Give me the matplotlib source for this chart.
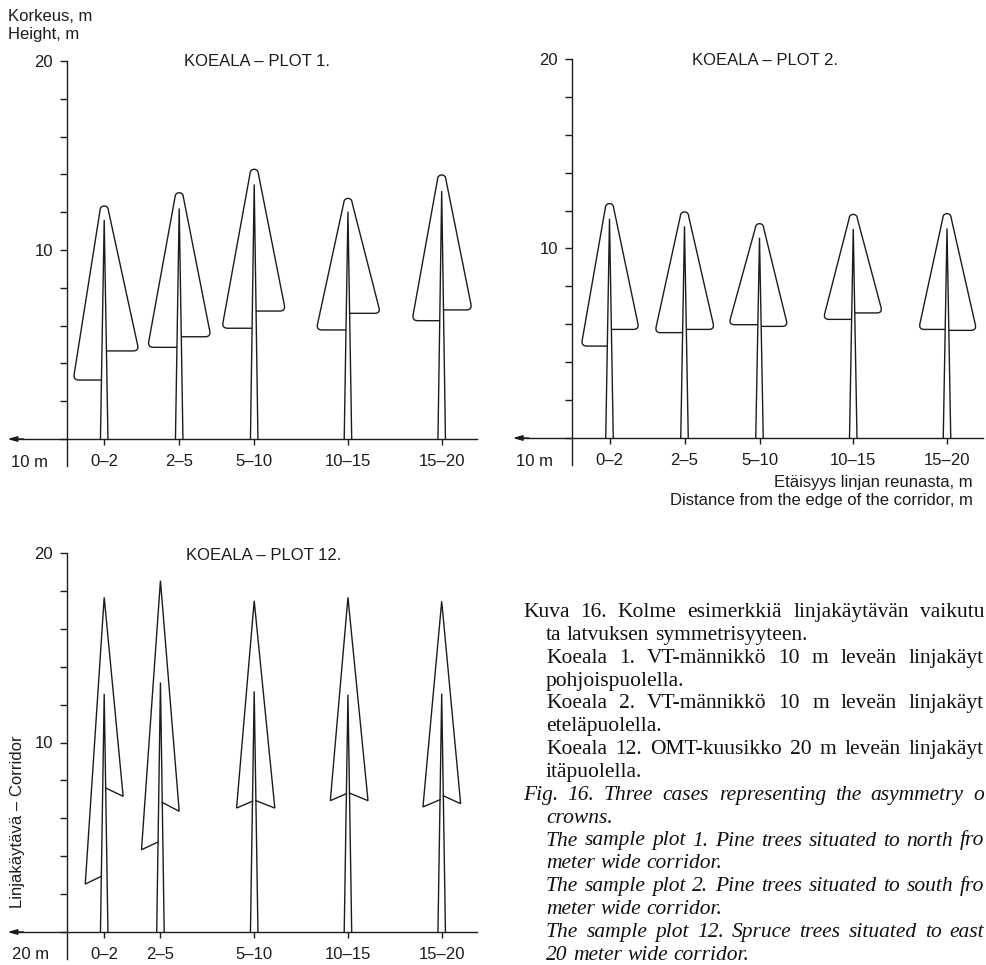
import matplotlib
matplotlib.use('Agg')
import matplotlib.pyplot as plt
from matplotlib.path import Path
from matplotlib.patches import PathPatch

W, H, DPI = 986, 965, 100
LC = '#1c1c1c'
LW = 1.0
SANS = ['Liberation Sans', 'DejaVu Sans']
SERIF = ['Liberation Serif', 'DejaVu Serif']

categories = ['0–2', '2–5', '5–10', '10–15', '15–20']

# ---- Plot 1 (pine, north of 10 m corridor) ----
p1_pos = [2, 6, 10, 15, 20]
p1_top = [12.33, 13.03, 14.27, 12.73, 13.97]     # crown top, m
p1_stem = [11.59, 12.20, 13.47, 12.03, 13.12]    # stem top, m
p1_hl = [3.12, 4.85, 5.86, 5.77, 6.26]           # crown base, corridor side
p1_hr = [4.66, 5.41, 6.77, 6.65, 6.83]           # crown base, stand side
p1_wl = [1.65, 1.68, 1.72, 1.69, 1.58]           # crown radius, corridor side
p1_wr = [1.85, 1.69, 1.67, 1.73, 1.62]           # crown radius, stand side

# ---- Plot 2 (pine, south of 10 m corridor) ----
p2_pos = [2, 6, 10, 15, 20]
p2_top = [12.37, 11.93, 11.31, 11.80, 11.84]
p2_stem = [11.57, 11.17, 10.57, 11.03, 11.06]
p2_hl = [4.85, 5.56, 5.98, 6.26, 5.73]
p2_hr = [5.73, 5.73, 5.89, 6.60, 5.68]
p2_wl = [1.51, 1.58, 1.64, 1.60, 1.51]
p2_wr = [1.58, 1.60, 1.51, 1.56, 1.58]

# ---- Plot 12 (spruce, east of 20 m corridor) ----
p3_pos = [2, 5, 10, 15, 20]
p3_top = [17.66, 18.54, 17.48, 17.66, 17.45]
p3_stem = [12.56, 13.17, 12.70, 12.52, 12.58]
p3_hl_out = [2.53, 4.34, 6.54, 6.93, 6.60]
p3_hl_in = [2.94, 4.75, 6.90, 7.30, 6.98]
p3_hr_out = [7.16, 6.37, 6.54, 6.93, 6.77]
p3_hr_in = [7.60, 6.84, 6.93, 7.33, 7.19]
p3_wl = [1.01, 1.01, 0.94, 0.94, 1.00]
p3_wr = [1.01, 1.00, 1.10, 1.07, 1.01]

STEM_HW = 0.2

fig = plt.figure(figsize=(W / DPI, H / DPI), dpi=DPI)
fig.patch.set_facecolor('white')


def fx(px):
    return px / W


def fy(py):
    return 1 - py / H


def make_ax(ox, oy, sx, sy, left, right, top, bottom):
    ax = fig.add_axes([left / W, 1 - bottom / H, (right - left) / W, (bottom - top) / H])
    ax.set_xlim((left - ox) / sx, (right - ox) / sx)
    ax.set_ylim((oy - bottom) / sy, (oy - top) / sy)
    ax.set_facecolor('none')
    for s in ('top', 'right'):
        ax.spines[s].set_visible(False)
    ax.spines['left'].set_position(('data', 0))
    ax.spines['bottom'].set_position(('data', 0))
    ax.spines['left'].set_bounds(-1.45, 20)
    ax.spines['bottom'].set_bounds(-2.9, 21.9)
    for s in ('left', 'bottom'):
        ax.spines[s].set_color(LC)
        ax.spines[s].set_linewidth(LW)
    ax.set_yticks(range(0, 21, 2))
    ax.set_yticklabels(['10' if v == 10 else '20' if v == 20 else '' for v in range(0, 21, 2)],
                       family=SANS, fontsize=12, color=LC)
    ax.tick_params(axis='y', direction='out', length=5, width=LW, pad=5, colors=LC)
    ax.annotate('', xy=(-3.15, 0), xytext=(-2.3, 0),
                arrowprops=dict(arrowstyle='-|>,head_length=0.55,head_width=0.16',
                                color=LC, lw=LW, shrinkA=0, shrinkB=0))
    return ax


def set_cats(ax, pos):
    ax.set_xticks(pos)
    ax.set_xticklabels(categories, family=SANS, fontsize=12, color=LC)
    ax.tick_params(axis='x', direction='out', length=4.5, width=LW, pad=6.5, colors=LC)


def toward(p, q, d):
    dx, dy = q[0] - p[0], q[1] - p[1]
    n = (dx * dx + dy * dy) ** 0.5
    return (p[0] + dx / n * d, p[1] + dy / n * d)


def stem_x(c, top, h, side):
    return c + side * STEM_HW * (1 - h / top)


def draw_stem(ax, c, top):
    ax.plot([c - STEM_HW, c, c + STEM_HW], [0, top, 0], color=LC, lw=LW,
            solid_joinstyle='miter')


def draw_pine(ax, c, top, stem, hl, hr, wl, wr):
    draw_stem(ax, c, stem)
    rc, rb = 0.22, 0.3
    SL = (stem_x(c, stem, hl, -1), hl)
    OL = (c - wl, hl)
    A1 = (c - rc, top - rc)
    A2 = (c + rc, top - rc)
    OR = (c + wr, hr)
    SR = (stem_x(c, stem, hr, 1), hr)
    b1, b2 = toward(OL, SL, rb), toward(OL, A1, rb)
    c1, c2 = toward(OR, A2, rb), toward(OR, SR, rb)
    k = 4.0 / 3.0 * rc
    verts = [SL, b1, OL, b2, A1, (A1[0], A1[1] + k), (A2[0], A2[1] + k), A2,
             c1, OR, c2, SR]
    codes = [Path.MOVETO, Path.LINETO, Path.CURVE3, Path.CURVE3, Path.LINETO,
             Path.CURVE4, Path.CURVE4, Path.CURVE4, Path.LINETO, Path.CURVE3,
             Path.CURVE3, Path.LINETO]
    ax.add_patch(PathPatch(Path(verts, codes), fill=False, edgecolor=LC, lw=LW,
                           joinstyle='round', capstyle='butt'))


def draw_spruce(ax, c, top, stem, hlo, hli, hro, hri, wl, wr):
    draw_stem(ax, c, stem)
    xs = [stem_x(c, stem, hli, -1), c - wl, c, c + wr, stem_x(c, stem, hri, 1)]
    ys = [hli, hlo, top, hro, hri]
    ax.plot(xs, ys, color=LC, lw=LW, solid_joinstyle='miter')


# ---------- Panel 1 ----------
ax1 = make_ax(66.7, 439.0, 18.75, 18.9, 0, 493, 40, 480)
set_cats(ax1, p1_pos)
for i in range(len(p1_pos)):
    draw_pine(ax1, p1_pos[i], p1_top[i], p1_stem[i], p1_hl[i], p1_hr[i], p1_wl[i], p1_wr[i])
ax1.text(10.15, 19.74, 'KOEALA – PLOT 1.', ha='center', va='baseline', family=SANS,
         fontsize=12, color=LC)
ax1.text(-2.0, -1.47, '10 m', ha='center', va='baseline', family=SANS, fontsize=12, color=LC)

# ---------- Panel 2 ----------
ax2 = make_ax(572.0, 438.0, 18.75, 18.95, 495, 986, 40, 480)
set_cats(ax2, p2_pos)
for i in range(len(p2_pos)):
    draw_pine(ax2, p2_pos[i], p2_top[i], p2_stem[i], p2_hl[i], p2_hr[i], p2_wl[i], p2_wr[i])
ax2.text(10.28, 19.68, 'KOEALA – PLOT 2.', ha='center', va='baseline', family=SANS,
         fontsize=12, color=LC)
ax2.text(-2.0, -1.47, '10 m', ha='center', va='baseline', family=SANS, fontsize=12, color=LC)

# ---------- Panel 3 ----------
ax3 = make_ax(66.7, 932.0, 18.75, 18.95, 0, 493, 530, 965)
set_cats(ax3, p3_pos)
for i in range(len(p3_pos)):
    draw_spruce(ax3, p3_pos[i], p3_top[i], p3_stem[i], p3_hl_out[i], p3_hl_in[i],
                p3_hr_out[i], p3_hr_in[i], p3_wl[i], p3_wr[i])
ax3.text(10.5, 19.63, 'KOEALA – PLOT 12.', ha='center', va='baseline', family=SANS,
         fontsize=12, color=LC)
ax3.text(-1.95, -1.44, '20 m', ha='center', va='baseline', family=SANS, fontsize=12, color=LC)

# ---------- figure-level labels ----------
fig.text(fx(8), fy(20.7), 'Korkeus, m', ha='left', va='baseline', family=SANS, fontsize=12, color=LC)
fig.text(fx(8), fy(39.3), 'Height, m', ha='left', va='baseline', family=SANS, fontsize=12, color=LC)
fig.text(fx(973), fy(486.7), 'Etäisyys linjan reunasta, m', ha='right', va='baseline',
         family=SANS, fontsize=12, color=LC)
fig.text(fx(973), fy(505), 'Distance from the edge of the corridor, m', ha='right',
         va='baseline', family=SANS, fontsize=12, color=LC)
fig.text(fx(18), fy(822), 'Linjakäytävä – Corridor', ha='center', va='center', rotation=90,
         family=SANS, fontsize=12, color=LC)

# ---------- caption ----------
cap_lines = [
    ("Kuva 16. Kolme esimerkkiä linjakäytävän vaikutu", 523, True, False),
    ("ta latvuksen symmetrisyyteen.", 546, False, False),
    ("Koeala 1. VT-männikkö 10 m leveän linjakäyt", 546, True, False),
    ("pohjoispuolella.", 546, False, False),
    ("Koeala 2. VT-männikkö 10 m leveän linjakäyt", 546, True, False),
    ("eteläpuolella.", 546, False, False),
    ("Koeala 12. OMT-kuusikko 20 m leveän linjakäyt", 546, True, False),
    ("itäpuolella.", 546, False, False),
    ("Fig. 16. Three cases representing the asymmetry o", 523, True, True),
    ("crowns.", 546, False, True),
    ("The sample plot 1. Pine trees situated to north fro", 546, True, True),
    ("meter wide corridor.", 546, False, True),
    ("The sample plot 2. Pine trees situated to south fro", 546, True, True),
    ("meter wide corridor.", 546, False, True),
    ("The sample plot 12. Spruce trees situated to east", 546, True, True),
    ("20 meter wide corridor.", 546, False, True),
]
CAP_FS = 15.5
renderer = fig.canvas.get_renderer()
for i, (line, x0, justify, italic) in enumerate(cap_lines):
    yb = 617 + 22.85 * i
    style = 'italic' if italic else 'normal'
    words = line.split(' ')
    objs = []
    for w in words:
        t = fig.text(fx(x0), fy(yb), w, ha='left', va='baseline', family=SERIF,
                     fontsize=CAP_FS, style=style, color='#111111')
        objs.append(t)
    widths = [t.get_window_extent(renderer).width for t in objs]
    sp_t = fig.text(0, 0, 'a a', family=SERIF, fontsize=CAP_FS, style=style)
    sp_t2 = fig.text(0, 0, 'aa', family=SERIF, fontsize=CAP_FS, style=style)
    natural = sp_t.get_window_extent(renderer).width - sp_t2.get_window_extent(renderer).width
    sp_t.remove()
    sp_t2.remove()
    gap = natural
    if justify and len(words) > 1:
        g = (984 - x0 - sum(widths)) / (len(words) - 1)
        gap = max(g, natural * 0.8)
    x = x0
    for t, wdt in zip(objs, widths):
        t.set_x(fx(x))
        x += wdt + gap

fig.savefig('out.png', dpi=DPI, facecolor='white')
